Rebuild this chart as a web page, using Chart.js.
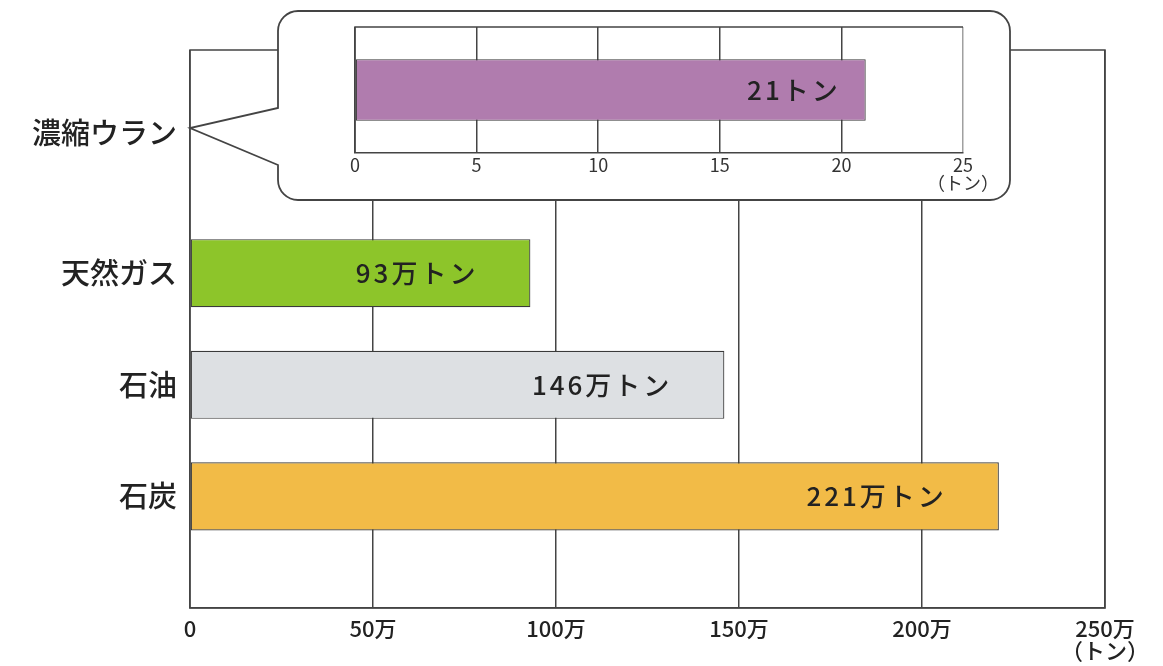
<!DOCTYPE html>
<html lang="ja">
<head>
<meta charset="utf-8">
<script src="https://cdn.jsdelivr.net/npm/chart.js@4"></script>
<style>
html, body { margin: 0; padding: 0; background: #fff; }
#wrap { position: relative; width: 1163px; height: 666px; }
#main { position: absolute; left: 0; top: 0; }
#inset { position: absolute; left: 278px; top: 10px; }
</style>
</head>
<body>
<div id="wrap">
  <canvas id="main" width="1163" height="666"></canvas>
  <canvas id="inset" width="732" height="190"></canvas>
</div>
<script>
// data (万トン / トン)
const categories = ['濃縮ウラン', '天然ガス', '石油', '石炭']
const mainValues = [null, 93, 146, 221]
const uraniumTons = [21]
const mainTicks = [0, 50, 100, 150, 200, 250]
const insetTicks = [0, 5, 10, 15, 20, 25]
const barColors = ['#b07cae', '#8dc52a', '#dde0e3', '#f2bb47']

const FONT = '"Noto Sans CJK JP", "Noto Sans", sans-serif'
const LINE = '#444'

// main chart: blank slot above and below so the rows line up
let mainLabels = [''].concat(categories, [''])
let mainData = [null].concat(mainValues, [null])
let mainColors = ['#fff'].concat(barColors, ['#fff'])

function valueText(ctx, txt, x, y) {
    ctx.save()
    ctx.fillStyle = '#222'
    ctx.font = '500 26px ' + FONT
    ctx.letterSpacing = '3px'
    ctx.textAlign = 'right'
    ctx.textBaseline = 'middle'
    ctx.fillText(txt, x + 3, y)
    ctx.restore()
}

let mainPlugin = {
    id: 'mainDeco',
    afterDatasetsDraw(chart) {
        let ctx = chart.ctx
        let a = chart.chartArea
        ctx.save()
        ctx.strokeStyle = LINE
        ctx.lineWidth = 1.5
        ctx.strokeRect(a.left, a.top, a.right - a.left, a.bottom - a.top)
        ctx.restore()
        chart.getDatasetMeta(0).data.forEach((bar, i) => {
            let v = mainData[i]
            if (v == null) return
            valueText(ctx, v + '万トン', bar.x - 55, bar.y)
        })
    },
    afterDraw(chart) {
        let ctx = chart.ctx
        ctx.save()
        // callout box for the uranium inset
        let L = 278, T = 11, R = 1010, B = 200, r = 20
        ctx.beginPath()
        ctx.moveTo(L, 108)
        ctx.lineTo(L, T + r)
        ctx.arcTo(L, T, L + r, T, r)
        ctx.lineTo(R - r, T)
        ctx.arcTo(R, T, R, T + r, r)
        ctx.lineTo(R, B - r)
        ctx.arcTo(R, B, R - r, B, r)
        ctx.lineTo(L + r, B)
        ctx.arcTo(L, B, L, B - r, r)
        ctx.lineTo(L, 165)
        ctx.lineTo(190, 128)
        ctx.closePath()
        ctx.fillStyle = '#fff'
        ctx.fill()
        ctx.strokeStyle = LINE
        ctx.lineWidth = 1.8
        ctx.stroke()
        ctx.fillStyle = '#222'
        ctx.font = '500 29px ' + FONT
        ctx.textAlign = 'right'
        ctx.textBaseline = 'middle'
        ctx.fillText(categories[0], 177, 133)
        ctx.restore()
    }
}

let main = new Chart(document.getElementById('main'), {
    type: 'bar',
    data: {
        labels: mainLabels,
        datasets: [{
            data: mainData,
            backgroundColor: mainColors,
            borderColor: '#3a3a3a',
            borderWidth: 1.2,
            borderSkipped: false,
            categoryPercentage: 1,
            barPercentage: 0.61
        }]
    },
    options: {
        indexAxis: 'y',
        responsive: false,
        animation: false,
        events: [],
        layout: { padding: { top: 50, right: 58, left: 0, bottom: 0 } },
        plugins: { legend: { display: false }, tooltip: { enabled: false } },
        scales: {
            x: {
                type: 'linear',
                min: 0,
                max: 250,
                afterBuildTicks: s => { s.ticks = mainTicks.map(v => ({ value: v })) },
                afterFit: s => { s.height = 58 },
                grid: { color: LINE, lineWidth: 1.5, drawTicks: false },
                border: { color: LINE, width: 1.5 },
                ticks: {
                    padding: 10,
                    color: '#222',
                    font: { family: FONT, size: 22, weight: '500', lineHeight: 1 },
                    maxRotation: 0,
                    callback: v => v === 0 ? '0' : (v === 250 ? ['250万', '（トン）'] : v + '万')
                }
            },
            y: {
                type: 'category',
                offset: false,
                afterFit: s => { s.width = 190 },
                grid: { display: false, drawTicks: false },
                border: { display: false },
                ticks: {
                    padding: 13,
                    color: '#222',
                    font: { family: FONT, size: 29, weight: '500' },
                    callback: function (val, i) { return i === 1 ? '' : this.getLabelForValue(val) }
                }
            }
        }
    },
    plugins: [mainPlugin]
})

// inset chart (トン)
let insetPlugin = {
    id: 'insetDeco',
    afterDatasetsDraw(chart) {
        let ctx = chart.ctx
        let a = chart.chartArea
        ctx.save()
        ctx.strokeStyle = LINE
        ctx.lineWidth = 1.5
        ctx.beginPath()
        ctx.moveTo(a.left, a.bottom)
        ctx.lineTo(a.left, a.top)
        ctx.lineTo(a.right, a.top)
        ctx.stroke()
        ctx.restore()
        chart.getDatasetMeta(0).data.forEach((bar, i) => {
            valueText(ctx, uraniumTons[i] + 'トン', bar.x - 28, bar.y)
        })
    }
}

let inset = new Chart(document.getElementById('inset'), {
    type: 'bar',
    data: {
        labels: [categories[0]],
        datasets: [{
            data: uraniumTons,
            backgroundColor: barColors[0],
            borderColor: '#3a3a3a',
            borderWidth: 1.2,
            borderSkipped: false,
            categoryPercentage: 1,
            barPercentage: 0.49
        }]
    },
    options: {
        indexAxis: 'y',
        responsive: false,
        animation: false,
        events: [],
        layout: { padding: { top: 17, right: 47, left: 77, bottom: 0 } },
        plugins: { legend: { display: false }, tooltip: { enabled: false } },
        scales: {
            x: {
                type: 'linear',
                min: 0,
                max: 25,
                afterBuildTicks: s => { s.ticks = insetTicks.map(v => ({ value: v })) },
                afterFit: s => { s.height = 47 },
                grid: {
                    color: c => c.tick && c.tick.value === 25 ? '#a0a0a0' : LINE,
                    lineWidth: 1.5,
                    drawTicks: false
                },
                border: { color: LINE, width: 1.5 },
                ticks: {
                    padding: 3,
                    color: '#333',
                    font: { family: FONT, size: 18, lineHeight: 1 },
                    maxRotation: 0,
                    callback: v => v === 25 ? ['25', '（トン）'] : String(v)
                }
            },
            y: { display: false }
        }
    },
    plugins: [insetPlugin]
})
</script>
</body>
</html>
